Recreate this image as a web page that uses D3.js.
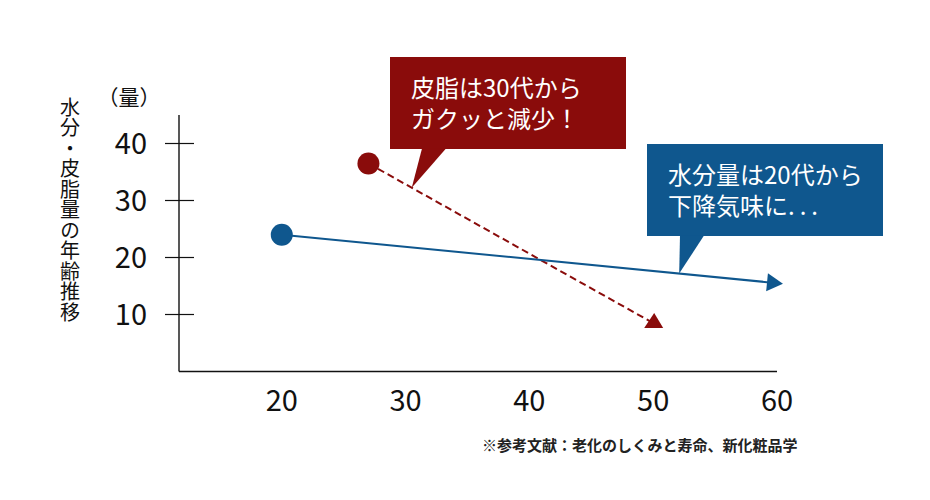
<!DOCTYPE html>
<html>
<head>
<meta charset="utf-8">
<script src="https://cdn.jsdelivr.net/npm/d3@7"></script>
<style>
  html, body { margin: 0; padding: 0; background: #fff; }
  text { font-family: "Noto Sans CJK JP", "Noto Sans", sans-serif; }
</style>
</head>
<body>
<svg id="chart" width="930" height="500"></svg>
<script>
// データ（年齢 → 量）
const ages = [20, 30, 40, 50, 60];
const yTicks = [10, 20, 30, 40];
const moisture = [{ age: 20, v: 24 }, { age: 60, v: 15.5 }];
const sebum = [{ age: 27, v: 36.5 }, { age: 50, v: 8.5 }];

const yTitle = '水分・皮脂量の年齢推移';
const yUnit = '（量）';
const sebumNote = ['皮脂は30代から', 'ガクッと減少！'];
const moistureNote = ['水分量は20代から', '下降気味に...'];
const sourceNote = '※参考文献：老化のしくみと寿命、新化粧品学';

const RED = '#8a0c0b';
const BLUE = '#0f578e';

const svg = d3.select('#chart');

const x = d3.scaleLinear().domain([11.7, 60]).range([179, 777]);
const y = d3.scaleLinear().domain([0, 45]).range([371.5, 115]);

// 軸
const axisG = svg.append('g');
axisG.append('line')
  .attr('x1', x.range()[0]).attr('x2', x.range()[0])
  .attr('y1', y.range()[1]).attr('y2', y.range()[0])
  .attr('stroke', '#111').attr('stroke-width', 1.4);
axisG.append('line')
  .attr('x1', x.range()[0]).attr('x2', x.range()[1])
  .attr('y1', y.range()[0]).attr('y2', y.range()[0])
  .attr('stroke', '#111').attr('stroke-width', 1.4);

axisG.selectAll('.ytick').data(yTicks).join('line')
  .attr('class', 'ytick')
  .attr('x1', 165).attr('x2', 194)
  .attr('y1', d => y(d)).attr('y2', d => y(d))
  .attr('stroke', '#111').attr('stroke-width', 1.2);

axisG.selectAll('.ylab').data(yTicks).join('text')
  .attr('class', 'ylab')
  .attr('x', 147).attr('y', d => y(d))
  .attr('dy', '0.37em')
  .attr('text-anchor', 'end')
  .attr('font-size', 29)
  .attr('fill', '#111')
  .text(d => d);

axisG.selectAll('.xlab').data(ages).join('text')
  .attr('class', 'xlab')
  .attr('x', d => x(d)).attr('y', 411)
  .attr('text-anchor', 'middle')
  .attr('font-size', 29)
  .attr('fill', '#111')
  .text(d => d);

svg.append('text')
  .attr('x', 129).attr('y', 105)
  .attr('text-anchor', 'middle')
  .attr('font-size', 21)
  .attr('fill', '#111')
  .text(yUnit);

// 縦書きタイトル
svg.append('text')
  .attr('x', 70).attr('y', 97)
  .style('writing-mode', 'vertical-rl')
  .attr('font-size', 20)
  .attr('letter-spacing', 0.5)
  .attr('fill', '#111')
  .text(yTitle);

// 系列
const line = d3.line().x(d => x(d.age)).y(d => y(d.v));

svg.append('path').datum(sebum)
  .attr('d', line)
  .attr('fill', 'none')
  .attr('stroke', RED).attr('stroke-width', 2)
  .attr('stroke-dasharray', '7,4');

svg.append('path').datum(moisture)
  .attr('d', line)
  .attr('fill', 'none')
  .attr('stroke', BLUE).attr('stroke-width', 2);

// 始点の丸
svg.append('circle')
  .attr('cx', x(sebum[0].age)).attr('cy', y(sebum[0].v))
  .attr('r', 11).attr('fill', RED);
svg.append('circle')
  .attr('cx', x(moisture[0].age)).attr('cy', y(moisture[0].v))
  .attr('r', 11).attr('fill', BLUE);

// 終点の三角
const se = sebum[sebum.length - 1];
const sx = x(se.age), sy = y(se.v);
svg.append('path')
  .attr('d', `M${sx + 1},${sy - 10}L${sx + 10},${sy + 5}L${sx - 9},${sy + 5}Z`)
  .attr('fill', RED);

const m0 = moisture[0], m1 = moisture[moisture.length - 1];
const ang = Math.atan2(y(m1.v) - y(m0.v), x(m1.age) - x(m0.age));
const mx = x(m1.age), my = y(m1.v);
svg.append('path')
  .attr('d', 'M6,0L-10,-9L-10,9Z')
  .attr('transform', `translate(${mx},${my}) rotate(${ang * 180 / Math.PI})`)
  .attr('fill', BLUE);

// 吹き出し
function pointOn(series, age) {
  const a = series[0], b = series[series.length - 1];
  const t = (age - a.age) / (b.age - a.age);
  return [x(age), y(a.v + (b.v - a.v) * t)];
}

function callout(box, tailX, tip, color, lines) {
  const g = svg.append('g');
  g.append('rect')
    .attr('x', box[0]).attr('y', box[1])
    .attr('width', box[2]).attr('height', box[3])
    .attr('fill', color);
  const by = box[1] + box[3] - 0.5;
  g.append('path')
    .attr('d', `M${tailX[0]},${by}L${tip[0]},${tip[1]}L${tailX[1]},${by}Z`)
    .attr('fill', color);
  const t = g.selectAll('text').data(lines).join('text')
    .attr('x', box[0] + 21)
    .attr('y', (d, i) => box[1] + 40 + i * 30.5)
    .attr('font-size', 24)
    .attr('fill', '#fff');
  // 末尾の「...」は字間を広げる
  t.each(function (d) {
    const el = d3.select(this);
    const m = d.match(/^(.*?)(\.+)$/);
    if (m) {
      el.append('tspan').text(m[1]);
      el.append('tspan').attr('letter-spacing', 5).text(m[2]);
    } else {
      el.text(d);
    }
  });
}

callout([390, 57, 236, 92], [422, 446], pointOn(sebum, 30.5), RED, sebumNote);
callout([647, 144, 236, 92], [680, 704], pointOn(moisture, 52.1), BLUE, moistureNote);

// 出典
svg.append('text')
  .attr('x', 482).attr('y', 451)
  .attr('font-size', 15)
  .attr('font-weight', 700)
  .attr('fill', '#222')
  .text(sourceNote);
</script>
</body>
</html>
